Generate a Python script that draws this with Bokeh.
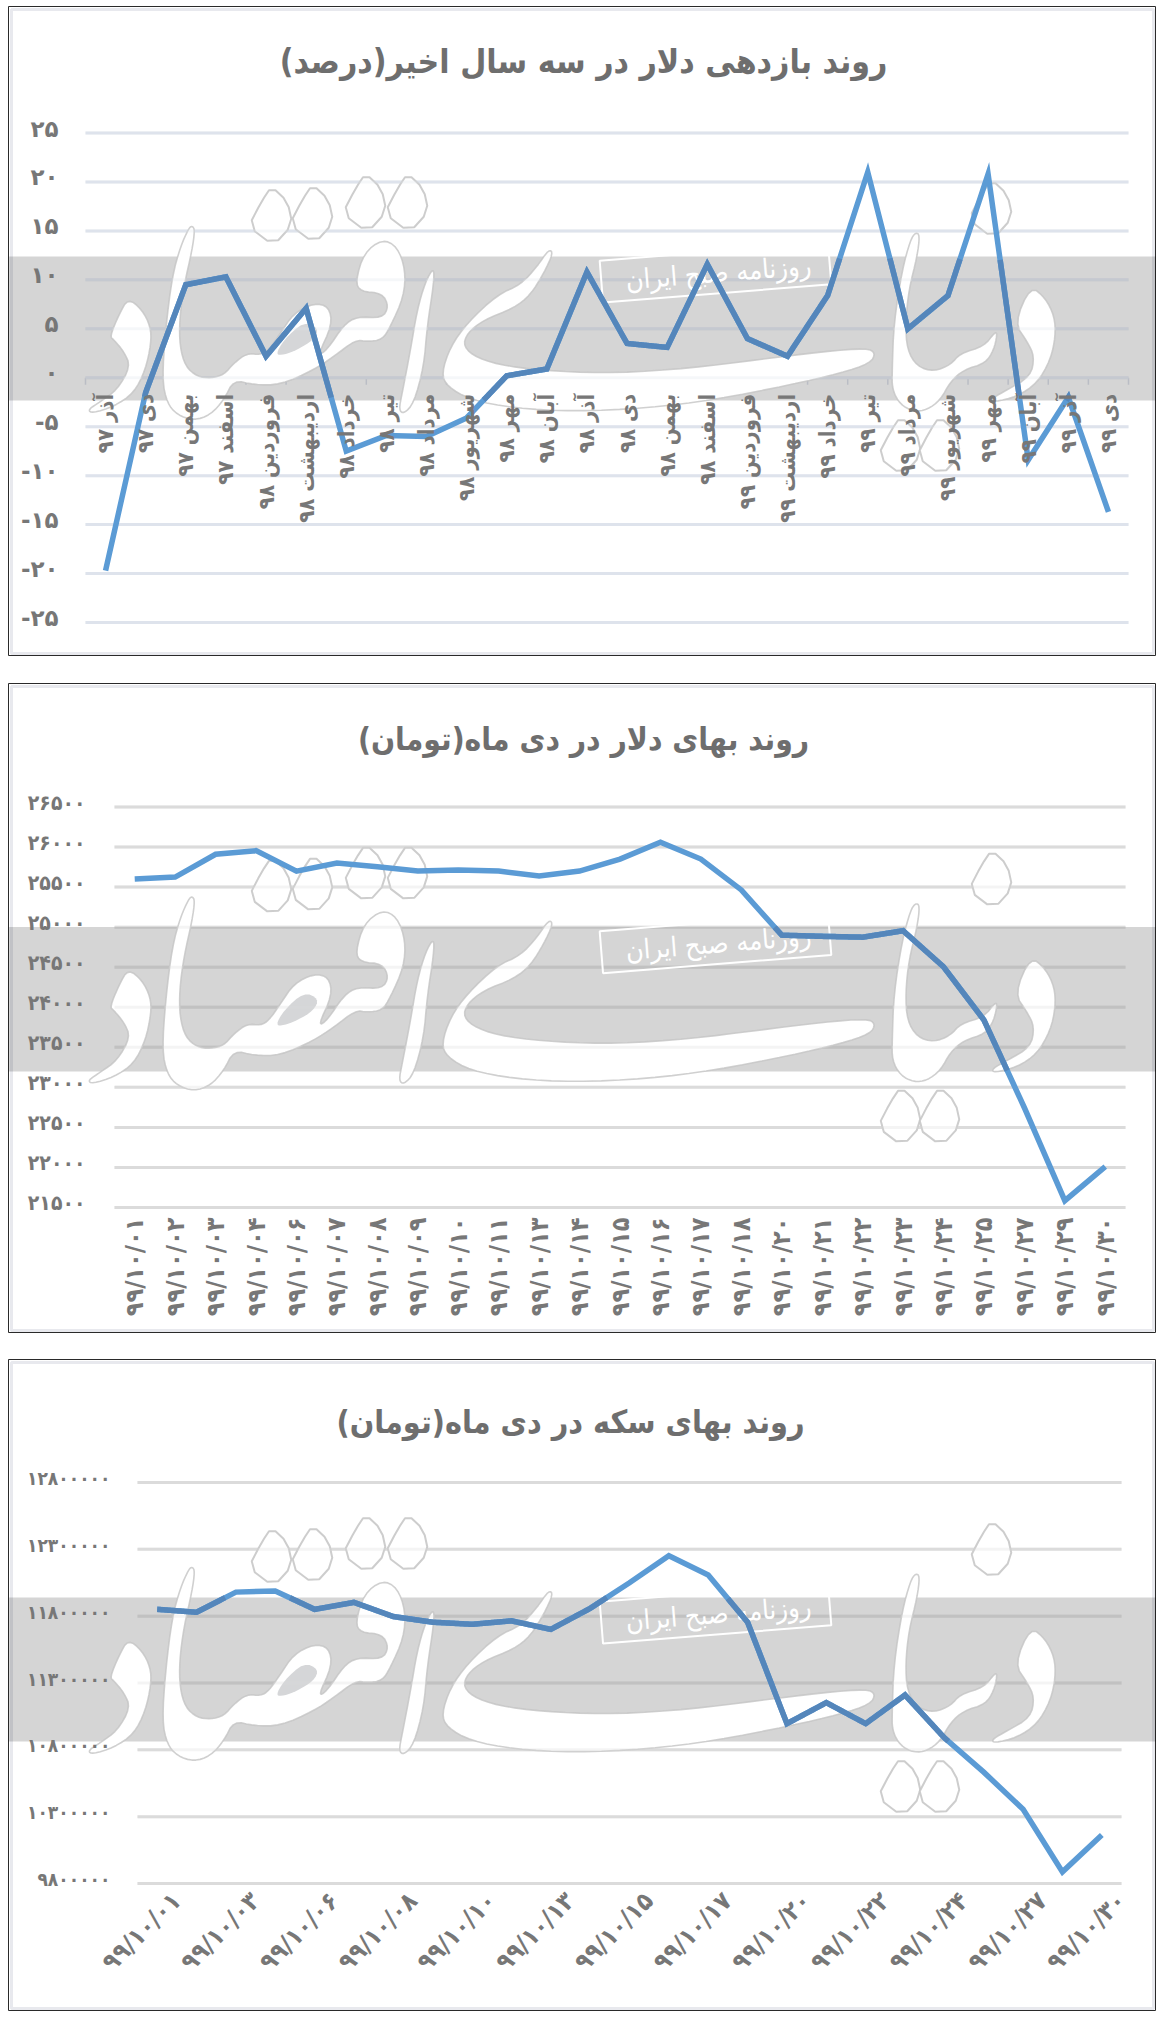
from bokeh.plotting import figure
from bokeh.layouts import column
from bokeh.models import Range1d, LinearAxis, FixedTicker
from bokeh.core.properties import value
from bokeh.embed import file_html
from bokeh.resources import INLINE
import numpy as np

months = ["آذر ۹۷","دی ۹۷","بهمن ۹۷","اسفند ۹۷","فروردین ۹۸","اردیبهشت ۹۸","خرداد ۹۸","تیر ۹۸","مرداد ۹۸","شهریور ۹۸","مهر ۹۸","آبان ۹۸","آذر ۹۸","دی ۹۸","بهمن ۹۸","اسفند ۹۸","فروردین ۹۹","اردیبهشت ۹۹","خرداد ۹۹","تیر ۹۹","مرداد ۹۹","شهریور ۹۹","مهر ۹۹","آبان ۹۹","آذر ۹۹","دی ۹۹"]
returns = [-19.7,-1.5,9.5,10.3,2.2,7.1,-7.5,-5.9,-6.0,-4.1,0.2,0.9,10.8,3.5,3.1,11.6,4.0,2.2,8.4,21.0,5.0,8.4,20.8,-8.4,-2.0,-13.7]
days = ["۹۹/۱۰/۰۱","۹۹/۱۰/۰۲","۹۹/۱۰/۰۳","۹۹/۱۰/۰۴","۹۹/۱۰/۰۶","۹۹/۱۰/۰۷","۹۹/۱۰/۰۸","۹۹/۱۰/۰۹","۹۹/۱۰/۱۰","۹۹/۱۰/۱۱","۹۹/۱۰/۱۳","۹۹/۱۰/۱۴","۹۹/۱۰/۱۵","۹۹/۱۰/۱۶","۹۹/۱۰/۱۷","۹۹/۱۰/۱۸","۹۹/۱۰/۲۰","۹۹/۱۰/۲۱","۹۹/۱۰/۲۲","۹۹/۱۰/۲۳","۹۹/۱۰/۲۴","۹۹/۱۰/۲۵","۹۹/۱۰/۲۷","۹۹/۱۰/۲۹","۹۹/۱۰/۳۰"]
dollar = [25600,25625,25910,25955,25700,25800,25755,25700,25715,25700,25640,25700,25850,26060,25850,25465,24900,24885,24875,24955,24505,23840,22745,21585,22010]
coin = [11851000,11829000,11980000,11989000,11851000,11903000,11797000,11755000,11739000,11765000,11701000,11858000,12050000,12252000,12108000,11755000,10996000,11153000,10996000,11210000,10890000,10633000,10355000,9887000,10162000]
y1_ticks = [25,20,15,10,5,0,-5,-10,-15,-20,-25]
y1_labels = ["۲۵","۲۰","۱۵","۱۰","۵","۰","-۵","-۱۰","-۱۵","-۲۰","-۲۵"]
y2_ticks = [26500,26000,25500,25000,24500,24000,23500,23000,22500,22000,21500]
y2_labels = ["۲۶۵۰۰","۲۶۰۰۰","۲۵۵۰۰","۲۵۰۰۰","۲۴۵۰۰","۲۴۰۰۰","۲۳۵۰۰","۲۳۰۰۰","۲۲۵۰۰","۲۲۰۰۰","۲۱۵۰۰"]
y3_ticks = [12800000,12300000,11800000,11300000,10800000,10300000,9800000]
y3_labels = ["۱۲۸۰۰۰۰۰","۱۲۳۰۰۰۰۰","۱۱۸۰۰۰۰۰","۱۱۳۰۰۰۰۰","۱۰۸۰۰۰۰۰","۱۰۳۰۰۰۰۰","۹۸۰۰۰۰۰"]
titles = ["روند بازدهی دلار در سه سال اخیر(درصد)","روند بهای دلار در دی ماه(تومان)","روند بهای سکه در دی ماه(تومان)"]
stamp = "روزنامه صبح ایران"

FONT = "DejaVu Sans"
COND = "DejaVu Sans Condensed"
BLUE, DARK = "#5b9bd5", "#5486bb"
TXT = "#777777"
BAND = "#d5d6d8"

# Watermark artwork (decoration, not data): outlines on a 3x drawing grid, with the x origin of each group
WM_SHAPES = [
    (80, [(143,265),(185,300),(210,350),(212,400),(195,480),(160,550),(100,590),(35,610),(22,600),(60,575),(110,540),(150,470),(130,425),(100,390),(88,380),(115,315)]),
    (80, [(335,48),(343,60),(335,120),(310,230),(297,330),(298,410),(315,470),(350,500),(390,505),(430,495),(460,460),(500,430),(540,435),(565,420),(600,370),(640,310),(700,280),(745,290),(755,345),(712,437),(740,420),(790,345),(830,320),(905,325),(925,290),(905,250),(840,245),(825,215),(850,130),(905,88),(950,110),(975,180),(970,260),(930,350),(905,390),(860,395),(825,390),(760,440),(700,480),(600,525),(520,525),(460,510),(430,570),(390,615),(340,632),(290,615),(260,580),(245,510),(255,360),(275,200),(300,110),(325,55)]),
    (80, [(1060,172),(1060,220),(1040,350),(1030,470),(1000,580),(970,612),(955,600),(965,550),(990,420),(1010,300),(1035,215)]),
    (440, [(325,118),(338,130),(310,190),(270,255),(220,295),(130,330),(80,370),(68,410),(110,445),(200,470),(350,485),(530,490),(750,475),(950,450),(1150,425),(1280,415),(1305,430),(1290,460),(1200,490),(1050,525),(820,570),(620,595),(400,605),(220,595),(90,570),(20,530),(3,490),(30,410),(80,340),(170,255),(240,225),(290,170)]),
    (860, [(165,68),(178,75),(170,140),(145,240),(135,340),(140,420),(170,470),(220,485),(270,465),(300,430),(370,410),(405,365),(410,375),(400,420),(375,460),(310,480),(270,515),(240,570),(200,600),(160,605),(120,585),(95,540),(95,480),(100,340),(125,180),(150,90)]),
    (860, [(510,228),(555,265),(582,320),(585,380),(570,450),(530,520),(470,560),(400,577),(395,565),(440,540),(510,500),(522,440),(500,395),(462,340)]),
]
WM_HOLE = (80, [(585,435),(610,390),(670,335),(715,355),(700,390),(650,420),(610,435)])
WM_DOTS = [(271,-40),(312,-42),(365,-53),(407,-53),(991,-47),(900,190),(939,190)]
WM_DOT = [(0,-30),(16,-15),(21,8),(2,29),(-23,10),(-10,-15)]

def smooth(pts, it=2):
    a = np.array(pts, dtype=float)
    for _ in range(it):
        b = np.roll(a, -1, axis=0)
        a = np.column_stack([0.75*a + 0.25*b, 0.25*a + 0.75*b]).reshape(-1, 2)
    return a

def panel(title, cats, vals, ticks, labels, H, gx0, gx1, gtop, gbot, title_xy, title_size, band, orient, step, zero_axis,
          y_font, y_size, y_gap, x_font, x_size, x_gap, x_shift, grid_col):
    W = 1148
    n = len(cats)
    dx = (gx1 - gx0) / n
    xs = np.arange(n, dtype=float)
    px_x = lambda px: (px - gx0) / dx - 0.5
    tmax, tmin = max(ticks), min(ticks)
    k = (tmax - tmin) / (gbot - gtop)
    px_y = lambda py: tmax - (py - gtop) * k
    p = figure(width=W, height=H, output_backend="svg", toolbar_location=None,
               x_range=Range1d(px_x(0), px_x(W)), y_range=Range1d(px_y(H), px_y(0)),
               x_axis_type=None, y_axis_type=None, min_border=0, background_fill_color="white",
               border_fill_color="white", outline_line_color="#2a2a2a", outline_line_width=1)
    p.grid.visible = False
    p.quad(left=[px_x(3)], right=[px_x(W-3)], top=[px_y(3)], bottom=[px_y(H-3)], fill_alpha=0,
           line_color="#e8e9ee", line_width=3, level="underlay")
    tk = np.array(ticks, dtype=float)
    seg = dict(x0=[px_x(gx0)]*len(tk), x1=[px_x(gx1)]*len(tk), y0=tk, y1=tk, level="underlay")
    p.segment(line_color=grid_col, line_width=3, **seg)
    if zero_axis:
        bx = np.arange(n+1) - 0.5
        p.segment(x0=bx, x1=bx, y0=[0.0]*(n+1), y1=[-7*k]*(n+1), line_color=grid_col, line_width=1.5, level="underlay")
    # multiply-like band over the grid and the ticks
    p.quad(left=[px_x(0)], right=[px_x(W)], top=[px_y(band[0])], bottom=[px_y(band[1])],
           fill_color="black", fill_alpha=0.165, line_alpha=0, level="underlay")
    # watermark
    ax = lambda x0, z: px_x(x0 + np.asarray(z)/3 - 8)
    ay = lambda z: px_y((np.asarray(z) - 140)/3 + band[0])
    for x0, s in WM_SHAPES:
        a = smooth(s)
        p.patch(ax(x0, a[:,0]), ay(a[:,1]), fill_color="white", line_color="#c4c4c4", line_width=1.6, line_alpha=0.8, level="underlay")
    a = smooth(WM_HOLE[1])
    p.patch(ax(WM_HOLE[0], a[:,0]), ay(a[:,1]), fill_color=BAND, line_alpha=0, level="underlay")
    for cx, cy in WM_DOTS:
        a = smooth([(cx+u-8, band[0]+cy+v) for u, v in WM_DOT], 1)
        p.patch(px_x(a[:,0]), px_y(a[:,1]), fill_color="white", line_color="#c8c8c8", line_width=2, line_alpha=0.9, level="underlay")
    p.segment(line_color=grid_col, line_width=3, line_alpha=0.3, **seg)
    # stamp
    p.rect(x=[px_x(707)], y=[px_y(band[0]+16)], width=229, height=42, width_units="screen", height_units="screen",
           angle=0.08, fill_alpha=0.0, line_color="white", line_width=2, level="underlay")
    p.text(x=[px_x(710)], y=[px_y(band[0]+16)], text=[stamp], text_font=value(COND), text_font_size="27px",
           text_color="white", text_align="center", text_baseline="middle", angle=0.08, level="underlay")
    # series; the part inside the band looks darker
    ys = np.array(vals, dtype=float)
    p.line(xs, ys, line_color=BLUE, line_width=5.5, line_join="miter")
    bt, bb = px_y(band[0]), px_y(band[1])
    fx = np.linspace(0, n-1, (n-1)*40+1)
    fy = np.interp(fx, xs, ys)
    p.line(fx, np.where((fy <= bt) & (fy >= bb), fy, np.nan), line_color=DARK, line_width=5.5, line_join="miter")
    # axes; labels sit slightly above their grid lines
    ylab = [t + 4.5*k for t in ticks]
    ya = LinearAxis(fixed_location=px_x(gx0 - y_gap), ticker=FixedTicker(ticks=ylab),
                    major_label_overrides={t: l for t, l in zip(ylab, labels)}, axis_line_color=None,
                    major_tick_line_color=None, minor_tick_line_color=None, major_label_standoff=0,
                    major_label_text_font=y_font, major_label_text_font_size=y_size, major_label_text_font_style="bold",
                    major_label_text_color=TXT)
    p.add_layout(ya, "left")
    loc = 0 if zero_axis else px_y(gbot + x_gap)
    shown = [i + x_shift for i in range(0, n, step)]
    xa = LinearAxis(fixed_location=loc, ticker=FixedTicker(ticks=shown),
                    major_label_overrides={i + x_shift: cats[i] for i in range(0, n, step)}, axis_line_color=None,
                    major_tick_line_color=None, minor_tick_line_color=None,
                    major_label_standoff=x_gap if zero_axis else 0,
                    major_label_orientation=orient, major_label_text_font=x_font,
                    major_label_text_font_size=x_size, major_label_text_color=TXT, major_label_text_font_style="bold")
    p.add_layout(xa, "below")
    p.text(x=[px_x(title_xy[0])], y=[px_y(title_xy[1])], text=[title], text_font=value(COND),
           text_font_style="bold", text_font_size=title_size, text_color="#6e6e6e",
           text_align="center", text_baseline="middle")
    return p

p1 = panel(titles[0], months, returns, y1_ticks, y1_labels, 650, 77, 1120, 126.5, 616, (575, 55), "33.5px", (250, 394), np.pi/2, 1, True,
           FONT, "23px", 21, COND, "22px", 10, 0.0, "#dfe3ec")
p2 = panel(titles[1], days, dollar, y2_ticks, y2_labels, 650, 106, 1117, 123.5, 524, (575, 55), "31.5px", (243.6, 388), np.pi/2, 1, False,
           COND, "21px", 23, COND, "25px", 4, 0.0, "#dcdcdc")
p3 = panel(titles[2], days, coin, y3_ticks, y3_labels, 652, 129, 1113, 123, 524, (562, 62), "32px", (238, 382), np.pi/4, 2, False,
           COND, "19px", 21, COND, "25px", 7, 0.49, "#dcdcdc")
p1.margin = (6, 0, 0, 8)
p2.margin = (27, 0, 0, 8)
p3.margin = (26, 0, 0, 8)
page = column(p1, p2, p3, spacing=0)
open("out.html", "w").write(file_html(page, INLINE))
